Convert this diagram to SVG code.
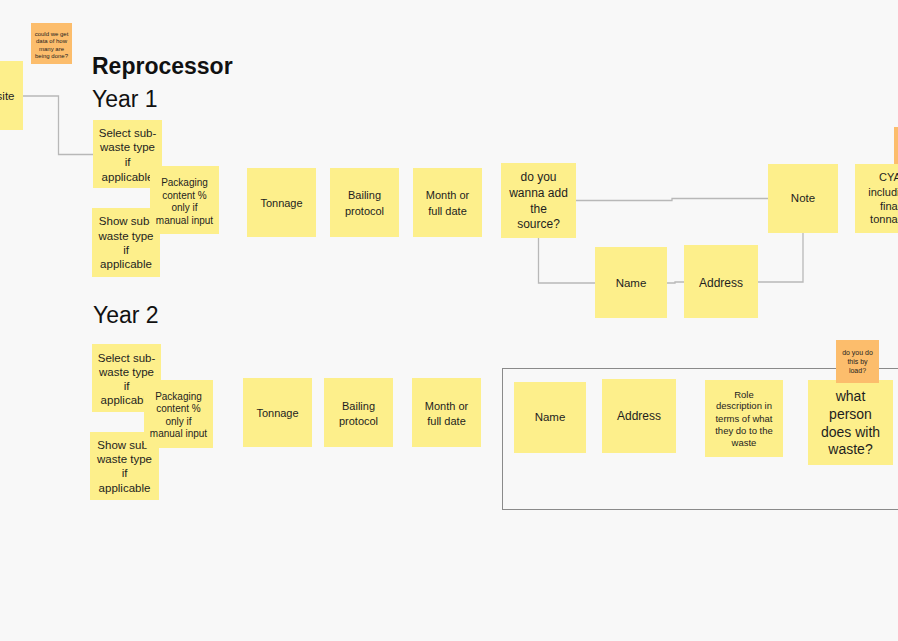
<svg xmlns="http://www.w3.org/2000/svg" width="898" height="641" viewBox="0 0 898 641">
<style>
.bg{fill:#f8f8f8}
.y{fill:#fdef8b}
.o{fill:#fcbd6c}
text{font-family:"Liberation Sans",Arial,sans-serif;fill:#1e1e1e;text-anchor:middle}
.f11{font-size:11px}
.f115{font-size:11.5px}
.f10{font-size:10px}
.f12{font-size:12px}
.c{fill:none;stroke:#b8b8b8;stroke-width:1.3}
.frame{fill:none;stroke:#8a8a8a;stroke-width:1}
.h{font-size:23px;text-anchor:start;fill:#111}
</style>
<rect class="bg" x="0" y="0" width="898" height="641"/>

<g id="connectors">
<path class="c" d="M23,96 H58.5 V154.5 H93"/>
<path class="c" d="M576,200.5 H672 V198.5 H768"/>
<path class="c" d="M538.5,238 V283 H595"/>
<path class="c" d="M667,283 H675 V282 H684"/>
<path class="c" d="M758,282 H803 V233"/>
</g>

<g id="titles">
<text x="92" y="74" class="h" style="font-weight:bold">Reprocessor</text>
<text x="92" y="107" class="h">Year 1</text>
<text x="93" y="323" class="h">Year 2</text>
</g>

<g id="note-question-data">
<rect class="o" x="31" y="23" width="41" height="41"/>
<text x="51.5" style="font-size:6px"><tspan x="51.5" y="35.5">could we get</tspan><tspan x="51.5" y="43">data of how</tspan><tspan x="51.5" y="50.5">many are</tspan><tspan x="51.5" y="58">being done?</tspan></text>
</g>

<g id="note-site">
<rect class="y" x="-47" y="61" width="70" height="69"/>
<text x="14.5" y="100" class="f115" style="text-anchor:end">site</text>
</g>

<g id="y1-select">
<rect class="y" x="93" y="120" width="69" height="68"/>
<text class="f115"><tspan x="127.5" y="136.7">Select sub-</tspan><tspan x="127.5" y="151">waste type</tspan><tspan x="127.5" y="165.7">if</tspan><tspan x="127.5" y="180.7">applicable</tspan></text>
</g>
<g id="y1-show">
<rect class="y" x="92" y="208" width="68" height="69"/>
<text class="f115"><tspan x="126" y="225">Show sub-</tspan><tspan x="126" y="239.7">waste type</tspan><tspan x="126" y="254">if</tspan><tspan x="126" y="268">applicable</tspan></text>
</g>
<g id="y1-packaging">
<rect class="y" x="150" y="166" width="69" height="68"/>
<text class="f10"><tspan x="184.5" y="185.5">Packaging</tspan><tspan x="184.5" y="198.5">content %</tspan><tspan x="184.5" y="211">only if</tspan><tspan x="184.5" y="223.5">manual input</tspan></text>
</g>
<g id="y1-tonnage">
<rect class="y" x="247" y="168" width="69" height="69"/>
<text x="281.5" y="207" class="f11">Tonnage</text>
</g>
<g id="y1-bailing">
<rect class="y" x="330" y="168" width="69" height="69"/>
<text class="f11"><tspan x="364.5" y="199">Bailing</tspan><tspan x="364.5" y="214.7">protocol</tspan></text>
</g>
<g id="y1-month">
<rect class="y" x="413" y="168" width="69" height="69"/>
<text class="f11"><tspan x="447.5" y="199">Month or</tspan><tspan x="447.5" y="214.7">full date</tspan></text>
</g>
<g id="y1-source">
<rect class="y" x="501" y="163" width="75" height="75"/>
<text class="f12"><tspan x="538.5" y="181">do you</tspan><tspan x="538.5" y="197">wanna add</tspan><tspan x="538.5" y="212.5">the</tspan><tspan x="538.5" y="228">source?</tspan></text>
</g>
<g id="y1-note">
<rect class="y" x="768" y="164" width="70" height="69"/>
<text x="803" y="202" class="f115">Note</text>
</g>
<g id="orange-top-right">
<rect class="o" x="894" y="127" width="40" height="38"/>
</g>
<g id="y1-cya">
<rect class="y" x="855" y="164" width="70" height="69"/>
<text class="f11"><tspan x="890" y="180.5">CYA</tspan><tspan x="890" y="195.5">including</tspan><tspan x="890" y="209.5">final</tspan><tspan x="890" y="223">tonnage</tspan></text>
</g>
<g id="y1-name">
<rect class="y" x="595" y="247" width="72" height="71"/>
<text x="631" y="286.7" class="f115">Name</text>
</g>
<g id="y1-address">
<rect class="y" x="684" y="245" width="74" height="73"/>
<text x="721" y="286.5" class="f12">Address</text>
</g>

<g id="y2-select">
<rect class="y" x="92" y="344" width="69" height="68"/>
<text class="f115"><tspan x="126.5" y="361.7">Select sub-</tspan><tspan x="126.5" y="375.7">waste type</tspan><tspan x="126.5" y="389.7">if</tspan><tspan x="126.5" y="404">applicable</tspan></text>
</g>
<g id="y2-show">
<rect class="y" x="90" y="432" width="69" height="68"/>
<text class="f115"><tspan x="124.5" y="449">Show sub-</tspan><tspan x="124.5" y="463">waste type</tspan><tspan x="124.5" y="477">if</tspan><tspan x="124.5" y="492">applicable</tspan></text>
</g>
<g id="y2-packaging">
<rect class="y" x="144" y="380" width="69" height="68"/>
<text class="f10"><tspan x="178.5" y="399.5">Packaging</tspan><tspan x="178.5" y="411.5">content %</tspan><tspan x="178.5" y="424.5">only if</tspan><tspan x="178.5" y="437">manual input</tspan></text>
</g>
<g id="y2-tonnage">
<rect class="y" x="243" y="378" width="69" height="69"/>
<text x="277.5" y="417.3" class="f11">Tonnage</text>
</g>
<g id="y2-bailing">
<rect class="y" x="324" y="378" width="69" height="69"/>
<text class="f11"><tspan x="358.5" y="409.7">Bailing</tspan><tspan x="358.5" y="424.7">protocol</tspan></text>
</g>
<g id="y2-month">
<rect class="y" x="412" y="378" width="69" height="69"/>
<text class="f11"><tspan x="446.5" y="409.7">Month or</tspan><tspan x="446.5" y="424.7">full date</tspan></text>
</g>

<g id="y2-frame">
<rect class="frame" x="502.5" y="368.5" width="420" height="141"/>
</g>
<g id="y2-name">
<rect class="y" x="514" y="382" width="72" height="71"/>
<text x="550" y="421.3" class="f115">Name</text>
</g>
<g id="y2-address">
<rect class="y" x="602" y="379" width="74" height="74"/>
<text x="639" y="420" class="f12">Address</text>
</g>
<g id="y2-role">
<rect class="y" x="705" y="380" width="78" height="77"/>
<text style="font-size:9.5px"><tspan x="744" y="397.6">Role</tspan><tspan x="744" y="409.3">description in</tspan><tspan x="744" y="421.6">terms of what</tspan><tspan x="744" y="434">they do to the</tspan><tspan x="744" y="446">waste</tspan></text>
</g>
<g id="y2-what-person">
<rect class="y" x="808" y="380" width="85" height="85"/>
<text style="font-size:14px"><tspan x="850.5" y="401">what</tspan><tspan x="850.5" y="419">person</tspan><tspan x="850.5" y="436.7">does with</tspan><tspan x="850.5" y="454.3">waste?</tspan></text>
</g>
<g id="y2-load-question">
<rect class="o" x="836" y="340" width="43" height="43"/>
<text style="font-size:7px"><tspan x="857.5" y="355.2">do you do</tspan><tspan x="857.5" y="364.2">this by</tspan><tspan x="857.5" y="372.8">load?</tspan></text>
</g>
</svg>
